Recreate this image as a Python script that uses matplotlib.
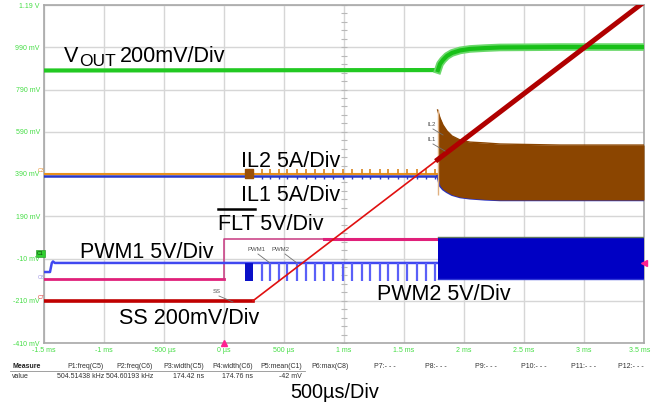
import numpy as np
import matplotlib
matplotlib.use('Agg')
import matplotlib.pyplot as plt
import matplotlib.transforms as mtransforms
from matplotlib import font_manager

W, H = 653, 408

# ---- scope data: time in ms, level in displayed mV ----
t_sw = 1.78  # converter starts switching

vout_t = [-1.5, 1.783, 1.8, 1.825, 1.858, 1.9, 1.967, 2.05, 2.175, 2.3, 2.8, 3.5]
vout_v = [880, 882, 911, 930, 949, 963, 975, 982, 986, 989, 991, 991]

ss_t = [-1.5, 0.242, 1.78, 3.5]
ss_v = [-210, -210, 458, 1204]

flt_t = [-1.5, 0.0, 0.0, 0.83, 3.5]
flt_v = [-108, -108, 80, 80, 80]

pwm1_t = [-1.5, -1.45, -1.435, -1.425, -1.41, 1.78]
pwm1_v = [-74, -74, -31, -24, -31, -31]
pwm_high, pwm_low = -31, -116
pwm_burst = (0.175, 0.242)
pulse_t = [0.314, 0.383, 0.461, 0.528, 0.606, 0.683, 0.758, 0.836, 0.911, 0.994,
           1.064, 1.148, 1.217, 1.300, 1.369, 1.453, 1.523, 1.606, 1.683, 1.758]
pwm_block_top, pwm_block_bot = 92, -107

il2_level, il1_level = 390, 380
il_env_t = [1.78, 1.8, 1.825, 1.858, 1.9, 1.967, 2.05, 2.175, 2.3, 2.8, 3.5]
il_env_top = [693, 655, 622, 594, 570, 551, 541, 537, 532, 527, 527]
il_env_bot = [380, 335, 318, 305, 292, 281, 275, 270, 267, 267, 267]

yticks = [-410, -210, -10, 190, 390, 590, 790, 990, 1190]
ylabels = ['-410 mV', '-210 mV', '-10 mV', '190 mV', '390 mV', '590 mV',
           '790 mV', '990 mV', '1.19 V']
xticks = [-1.5, -1.0, -0.5, 0, 0.5, 1.0, 1.5, 2.0, 2.5, 3.0, 3.5]
xlabels = ['-1.5 ms', '-1 ms', '-500 µs', '0 µs', '500 µs', '1 ms', '1.5 ms',
           '2 ms', '2.5 ms', '3 ms', '3.5 ms']

meas_head = ['P1:freq(C5)', 'P2:freq(C6)', 'P3:width(C5)', 'P4:width(C6)',
             'P5:mean(C1)', 'P6:max(C8)', 'P7:- - -', 'P8:- - -', 'P9:- - -',
             'P10:- - -', 'P11:- - -', 'P12:- - -']
meas_vals = ['504.51438 kHz', '504.60193 kHz', '174.42 ns', '174.76 ns', '-42 mV']

plt.rcParams['font.family'] = ['Liberation Sans', 'DejaVu Sans']
installed = {f.name for f in font_manager.fontManager.ttflist}
narrow = 'Liberation Sans Narrow' if 'Liberation Sans Narrow' in installed else 'Liberation Sans'
small_kw = dict(family=narrow)
small_size = 5.6 if narrow != 'Liberation Sans' else 5.0

fig = plt.figure(figsize=(W / 100, H / 100), dpi=100)
fig.patch.set_facecolor('white')
ax = fig.add_axes([44 / W, (H - 343) / H, 600 / W, 338 / H])
ax.set_xlim(-1.5, 3.5)
ax.set_ylim(-410, 1190)

green_txt = '#44dd44'
ax.set_xticks(xticks)
ax.set_xticklabels(xlabels, color=green_txt, fontsize=small_size, **small_kw)
ax.set_yticks(yticks)
ax.set_yticklabels(ylabels, color=green_txt, fontsize=small_size, **small_kw)
ax.tick_params(length=0, pad=3)
# keep the last time label inside the picture
last = ax.get_xticklabels()[-1]
last.set_horizontalalignment('right')
last.set_transform(last.get_transform() +
                   mtransforms.ScaledTranslation(6 / 100, 0, fig.dpi_scale_trans))
ax.grid(True, color='#d6d6d6', lw=1.0)
ax.set_axisbelow(True)
for s in ax.spines.values():
    s.set_color('#a8a8a8')
    s.set_linewidth(1.2)

# center graticule minor ticks
ax.plot([1.0] * 41, np.linspace(-410, 1190, 41), ls='none', marker='_', ms=4,
        color='#b8b8b8', mew=0.8, zorder=1)

# VOUT
ax.plot(vout_t[:2], vout_v[:2], color='#22c922', lw=3, zorder=3)
ax.plot(vout_t[1:], vout_v[1:], color='#6ad86a', lw=5.5, zorder=3)
ax.plot(vout_t[1:], vout_v[1:], color='#18c018', lw=3, zorder=3)

# IL1 / IL2 before switching
ax.plot([-1.5, t_sw], [il1_level] * 2, color='#2838c8', lw=1.8, zorder=4)
ax.plot([-1.5, t_sw], [il2_level] * 2, color='#e8901c', lw=1.5, zorder=4)
ax.vlines(pulse_t, il2_level, il2_level + 22, color='#d8841c', lw=1.2, zorder=4)
ax.vlines(pulse_t, il1_level - 16, il1_level, color='#2838c8', lw=1.0, zorder=4)
ax.fill_between(pwm_burst, 372, 412, color='#9a5008', zorder=4)

# IL envelope after switching
ax.plot(il_env_t, il_env_bot, color='#2830c0', lw=1.8, zorder=4)
ax.fill_between(il_env_t, il_env_bot, il_env_top, color='#8b4500', lw=0, zorder=5)
ax.plot(il_env_t, il_env_top, color='#8b4500', lw=1.0, zorder=5)
ax.vlines(t_sw, 290, il_env_top[0], color='#e0b080', lw=1.0, zorder=5)

# FLT
fcol = '#e0207a'
ax.plot(flt_t[:2], flt_v[:2], color=fcol, lw=2, zorder=6)
ax.plot(flt_t[1:4], flt_v[1:4], color='#c83880', lw=1.1, zorder=6)
ax.plot(flt_t[3:], flt_v[3:], color=fcol, lw=2.2, zorder=6)

# PWM
ax.plot(pwm1_t, pwm1_v, color='#4048f0', lw=1.8, zorder=7)
ax.vlines(pulse_t, pwm_low, pwm_high, color='#5a60f8', lw=1.6, zorder=7)
ax.fill_between(pwm_burst, pwm_low, pwm_high, color='#0a10c8', lw=0, zorder=7)
ax.fill_between([t_sw, 3.5], pwm_block_bot, pwm_block_top, color='#0000c4',
                lw=0, zorder=7)
ax.plot([t_sw, 3.5], [pwm_block_top] * 2, color='#607860', lw=1.0, zorder=7)
ax.plot([t_sw, 3.5], [pwm_block_bot] * 2, color='#3038d8', lw=1.0, zorder=7)

# SS
ax.plot(ss_t[:2], ss_v[:2], color='#c00000', lw=2.6, zorder=8)
ax.plot(ss_t[1:3], ss_v[1:3], color='#e01010', lw=1.2, zorder=8)
ax.plot(ss_t[2:], ss_v[2:], color='#b00000', lw=3.6, zorder=8, clip_on=True)

# markers on the frame
ax.plot([0], [-410], marker='^', color='#ff2090', ms=4, clip_on=False, zorder=9)
ax.plot([3.5], [-31], marker='<', color='#ff2090', ms=4, clip_on=False, zorder=9)


def fx(x):
    return x / W


def fy(y):
    return 1 - y / H


def label(x, y, s, size=15.5, **kw):
    fig.text(fx(x), fy(y), s, fontsize=size, va='baseline', ha='left',
             color='black', **kw)


# big channel labels
label(64, 62, 'V')
label(79, 66, 'OUT', size=12.5)
label(120, 62, '200mV/Div')
label(241, 167, 'IL2 5A/Div')
label(241, 201, 'IL1 5A/Div')
label(218, 230, 'FLT 5V/Div')
fig.add_artist(plt.Line2D([fx(218), fx(255)], [fy(209), fy(209)], color='black', lw=1.8))
label(80, 258, 'PWM1 5V/Div')
label(377, 300, 'PWM2 5V/Div')
label(119, 324, 'SS 200mV/Div')
label(290, 398, '500µs/Div', size=14.3)

# small trace tags with leader lines
tags = [('SS', 213, 293, 219, 296, 233, 302),
        ('PWM1', 247, 251, 258, 254, 270, 263),
        ('PWM2', 272, 251, 285, 254, 297, 263),
        ('IL2', 427, 126, 433, 129, 443, 135),
        ('IL1', 427, 141, 433, 144, 445, 151)]
for s, tx, ty, x0, y0, x1, y1 in tags:
    fig.text(fx(tx), fy(ty), s, fontsize=4.3, color='#505050', va='baseline')
    fig.add_artist(plt.Line2D([fx(x0), fx(x1)], [fy(y0), fy(y1)], color='#707070', lw=0.6))

# channel markers at left edge
fig.text(fx(38), fy(172), 'C3', fontsize=3.8, color='#e89030', va='baseline')
fig.text(fx(38), fy(279), 'C8', fontsize=3.8, color='#9a90e0', va='baseline')
fig.text(fx(38), fy(299), 'C7', fontsize=3.8, color='#e03030', va='baseline')
fig.text(fx(37), fy(255), 'C1', fontsize=3.8, color='#104010', va='baseline',
         bbox=dict(boxstyle='square,pad=0.15', fc='#30d030', ec='#30a030', lw=0.5))

# measurement table
fig.text(fx(12), fy(368), 'Measure', fontsize=small_size, color='#202020', va='baseline',
         fontweight='bold', **small_kw)
fig.text(fx(12), fy(378), 'value', fontsize=small_size, color='#303030', va='baseline',
         **small_kw)
head_right = [104, 153, 204, 253, 302, 349, 396, 447, 497, 547, 596, 644]
for s, xr in zip(meas_head, head_right):
    fig.text(fx(xr), fy(368), s, fontsize=small_size, color='#303030', va='baseline',
             ha='right', **small_kw)
for s, xr in zip(meas_vals, head_right):
    fig.text(fx(xr), fy(378), s, fontsize=small_size, color='#303030', va='baseline',
             ha='right', **small_kw)
fig.add_artist(plt.Line2D([fx(10), fx(305)], [fy(370.5), fy(370.5)], color='#909090', lw=0.6))

fig.savefig('out.png', dpi=100)
